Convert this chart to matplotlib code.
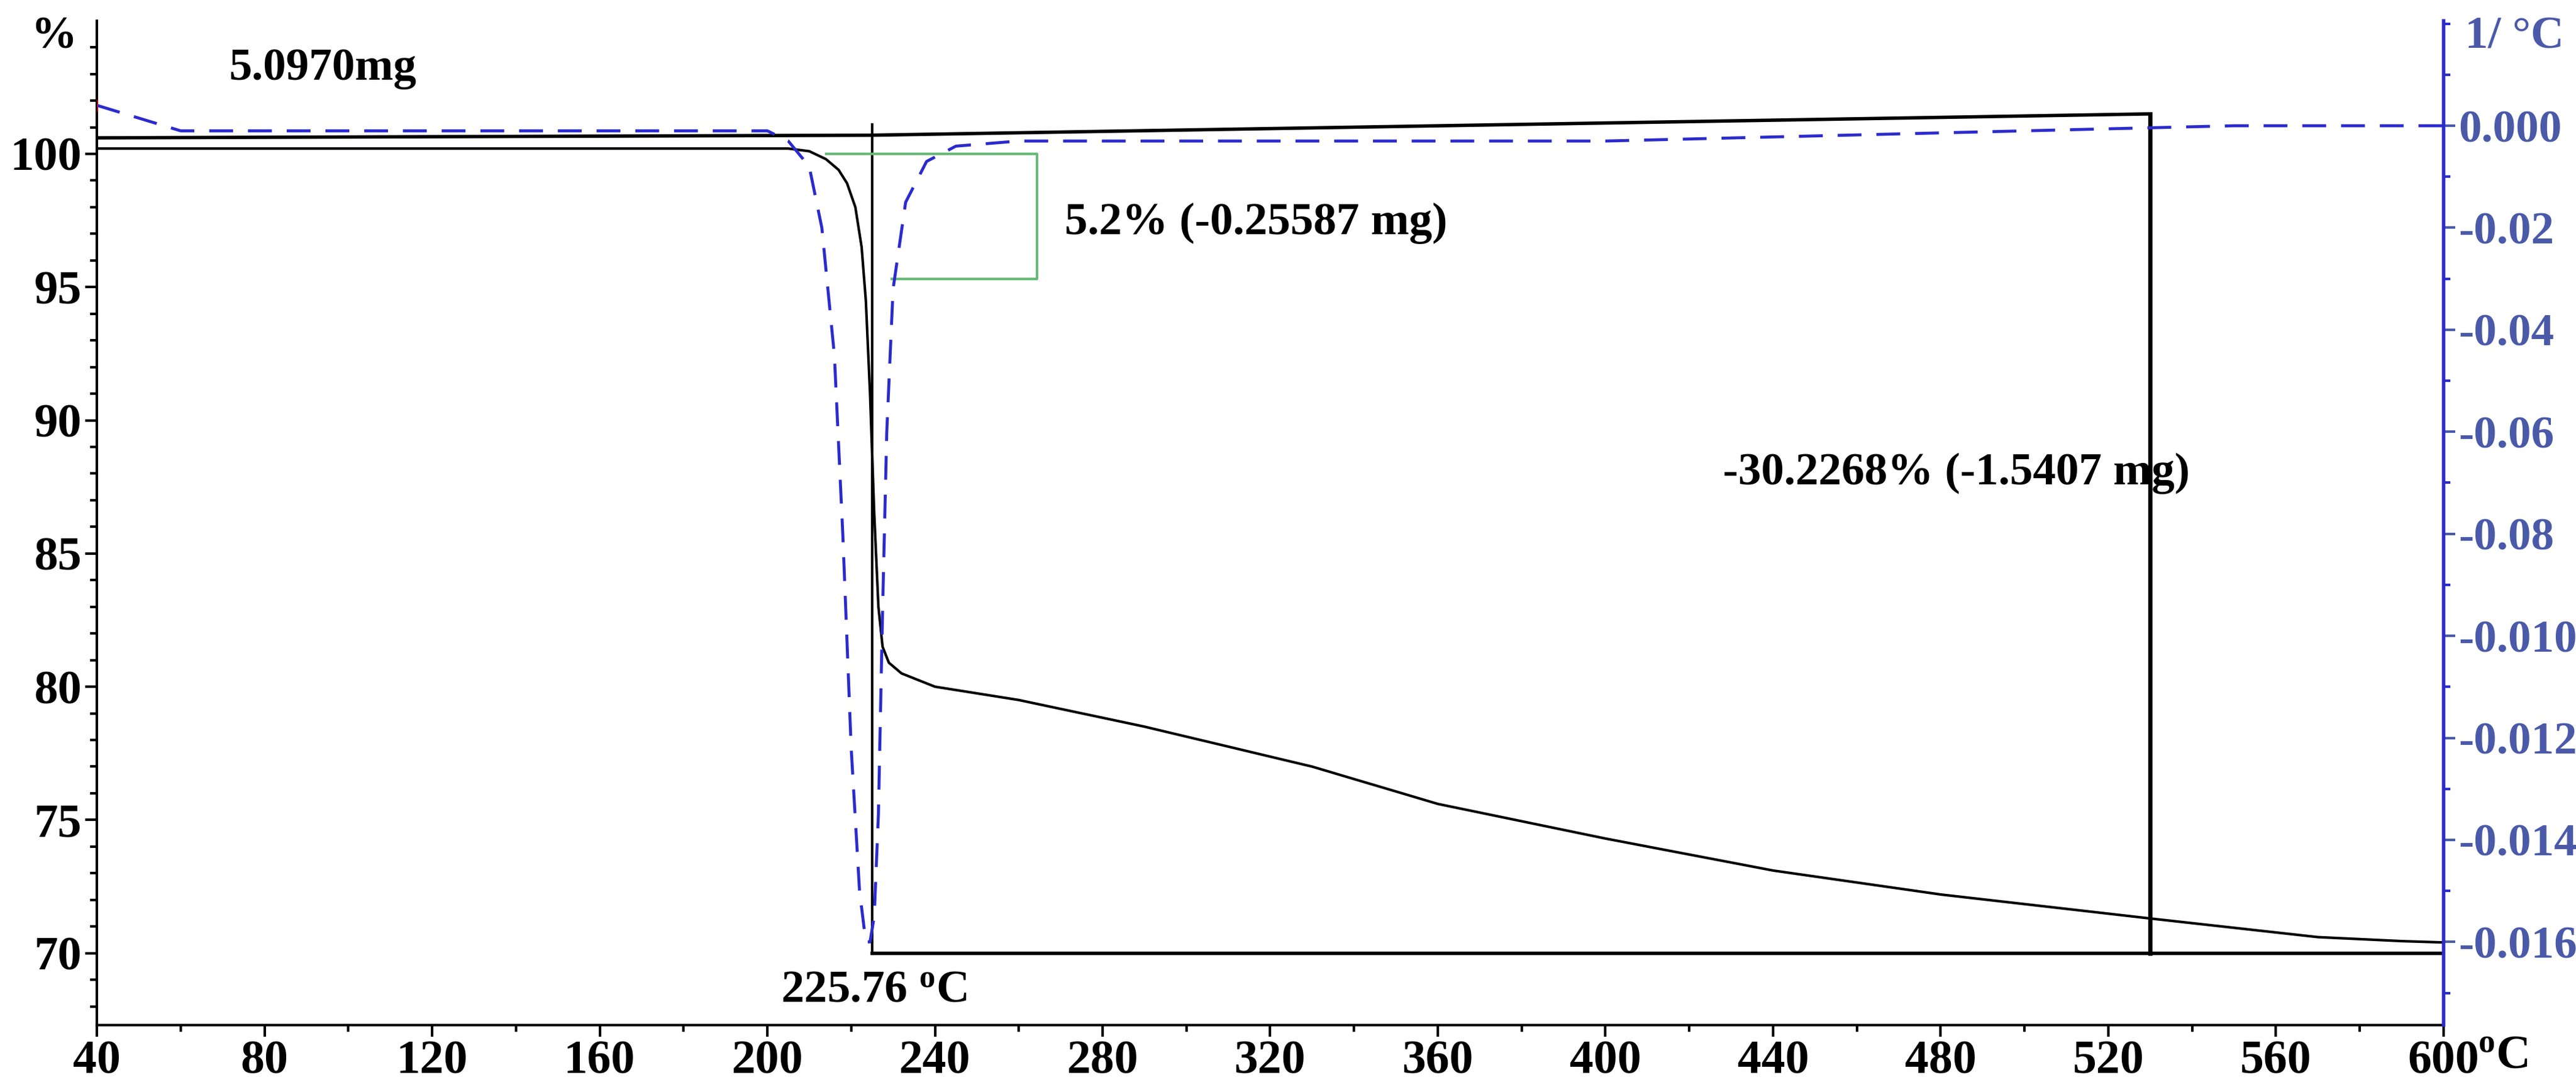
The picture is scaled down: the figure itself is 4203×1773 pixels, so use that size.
import matplotlib
matplotlib.use("Agg")
import matplotlib.pyplot as plt
import numpy as np

plt.rcParams['font.family'] = ['Liberation Serif', 'DejaVu Serif']
plt.rcParams['font.weight'] = 'bold'

# TG curve (%)
tg_T = [40, 100, 180, 205, 210, 214, 217, 219, 221, 222.5, 223.5, 224.5, 225.5, 226.5, 227.5, 229, 232, 240, 260, 290, 330, 360, 400, 440, 480, 530, 570, 590, 600]
tg_W = [100.2, 100.2, 100.2, 100.2, 100.1, 99.8, 99.4, 98.9, 98.0, 96.5, 94.5, 91.0, 86.5, 83.0, 81.5, 80.9, 80.5, 80.0, 79.5, 78.5, 77.0, 75.6, 74.3, 73.1, 72.2, 71.3, 70.6, 70.45, 70.4]
# upper baseline
base_T = [40, 225, 530]
base_W = [100.6, 100.7, 101.5]
# DTG curve (1/°C)
dtg_T = [40, 48, 60, 100, 150, 200, 205, 210, 213, 216, 218, 220, 222, 223.5, 224.5, 225.5, 226.5, 227.5, 228.5, 230, 233, 238, 245, 260, 300, 400, 450, 500, 550, 600]
dtg_V = [0.0004, 0.0002, -0.0001, -0.0001, -0.0001, -0.0001, -0.0003, -0.0008, -0.002, -0.0045, -0.008, -0.0122, -0.015, -0.016, -0.016, -0.0155, -0.0135, -0.0095, -0.006, -0.0032, -0.0015, -0.0007, -0.0004, -0.0003, -0.0003, -0.0003, -0.0002, -0.0001, 0.0, 0.0]

x_ticks = list(range(40, 601, 40))
left_ticks = [70, 75, 80, 85, 90, 95, 100]
right_ticks = [0.0, -0.002, -0.004, -0.006, -0.008, -0.010, -0.012, -0.014, -0.016]
right_labels = ['0.000', '-0.02', '-0.04', '-0.06', '-0.08', '-0.010', '-0.012', '-0.014', '-0.016']

blue = '#2b2bcc'
lblue = '#4a5aa8'

fig = plt.figure(figsize=(42.03, 17.73), dpi=100)
ax = fig.add_axes([0.0376, 0.057, 0.911, 0.924])
ax.set_xlim(40, 600)
ax.set_ylim(67.3, 105)
for s in ['top', 'right']:
    ax.spines[s].set_visible(False)
ax.spines['left'].set_linewidth(3)
ax.spines['bottom'].set_linewidth(3)
ax.set_xticks(x_ticks)
ax.set_xticks(range(40, 601, 20), minor=True)
ax.set_yticks(left_ticks)
ax.set_yticks(range(68, 105), minor=True)
ax.tick_params(labelsize=56, width=3, length=14, direction='out')
ax.tick_params(which='minor', width=3, length=8)

ax.plot(tg_T, tg_W, color='black', lw=3)
ax.plot(base_T, base_W, color='black', lw=4)
ax.plot([225, 225], [70, 101.1], color='black', lw=3)
ax.plot([530, 530], [70, 101.5], color='black', lw=5)
ax.plot([225, 600], [70, 70], color='black', lw=4)
# green bracket
ax.plot([214, 264.3, 264.3, 229.7], [100, 100, 95.3, 95.3], color='#66bb77', lw=3)

ax2 = ax.twinx()
ax2.set_position(ax.get_position())
ax2.set_ylim(-0.01763, 0.00206)
for s in ['top', 'left', 'bottom']:
    ax2.spines[s].set_visible(False)
ax2.spines['right'].set_color(blue)
ax2.spines['right'].set_linewidth(4)
ax2.set_yticks(right_ticks)
ax2.set_yticklabels(right_labels)
ax2.set_yticks(np.arange(-0.017, 0.0021, 0.001), minor=True)
ax2.tick_params(axis='y', labelsize=54, colors=lblue, width=3, length=14)
ax2.tick_params(axis='y', which='minor', colors=blue, width=3, length=8)
ax2.plot(dtg_T, dtg_V, color=blue, lw=3.5, ls=(0, (8, 5)))
ax2.plot([40], [0.0004], marker='|', color='red', ms=14)

ax.text(94, 103.2, '5.0970mg', fontsize=54, ha='center', va='center')
ax.text(271, 97.4, '5.2% (-0.25587 mg)', fontsize=54, ha='left', va='center')
ax.text(428, 88.0, '-30.2268% (-1.5407 mg)', fontsize=54, ha='left', va='center')
ax.text(225.5, 68.6, '225.76 $\\mathregular{^o}$C', fontsize=54, ha='center', va='center')
fig.text(0.012, 0.985, '%', fontsize=54, ha='left', va='top')
fig.text(0.957, 0.985, '1/ °C', fontsize=54, ha='left', va='top', color=lblue)
fig.text(0.962, 0.028, '$\\mathregular{^o}$C', fontsize=56, ha='left', va='center')

fig.savefig('out.png', dpi=100)
